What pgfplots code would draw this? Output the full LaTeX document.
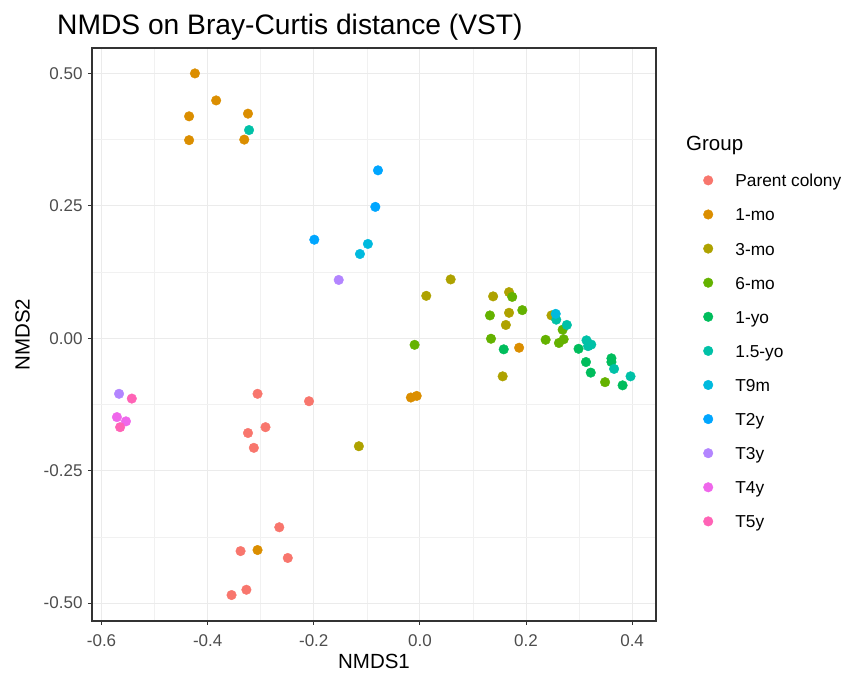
\documentclass[border=0pt]{standalone}
\usepackage{pgfplots}
\pgfplotsset{compat=1.18}
\usepackage{fontspec}
\setmainfont{Liberation Sans}
\definecolor{c1}{HTML}{F8766D}
\definecolor{c2}{HTML}{DB8E00}
\definecolor{c3}{HTML}{AEA200}
\definecolor{c4}{HTML}{64B200}
\definecolor{c5}{HTML}{00BD5C}
\definecolor{c6}{HTML}{00C1A7}
\definecolor{c7}{HTML}{00BADE}
\definecolor{c8}{HTML}{00A6FF}
\definecolor{c9}{HTML}{B385FF}
\definecolor{c10}{HTML}{EF67EB}
\definecolor{c11}{HTML}{FF63B6}
\definecolor{tickgrey}{HTML}{4D4D4D}
\definecolor{border}{HTML}{333333}
\definecolor{gridc}{HTML}{EBEBEB}
\begin{document}
\begin{tikzpicture}[x=1pt,y=1pt]
\path[use as bounding box] (0,0) rectangle (844,674);
\begin{axis}[
  at={(92pt,53pt)}, anchor=south west, scale only axis,
  width=564pt, height=573pt,
  xmin=-0.618, xmax=0.445, ymin=-0.534, ymax=0.548,
  xtick={-0.6,-0.4,-0.2,0,0.2,0.4},
  xticklabels={-0.6,-0.4,-0.2,0.0,0.2,0.4},
  ytick={-0.5,-0.25,0,0.25,0.5},
  yticklabels={-0.50,-0.25,0.00,0.25,0.50},
  minor xtick={-0.5,-0.3,-0.1,0.1,0.3},
  minor ytick={-0.375,-0.125,0.125,0.375},
  minor tick length=0pt,
  major tick length=4pt,
  tick align=outside,
  xtick pos=bottom, ytick pos=left,
  tick style={border, line width=0.9pt},
  axis line style={border, line width=1.1pt},
  grid=both,
  major grid style={gridc, line width=0.9pt},
  minor grid style={gridc!70, line width=0.5pt},
  ticklabel style={font=\fontsize{17}{20}\selectfont, text=tickgrey},
  xticklabel style={yshift=-6pt},
  yticklabel style={xshift=-2pt},
  xlabel={NMDS1}, ylabel={NMDS2},
  label style={font=\fontsize{20.5}{24}\selectfont, text=black},
  xlabel style={yshift=-1pt},
  ylabel style={yshift=7pt},
  only marks,
  every axis plot/.append style={mark=*, mark size=4.8pt},
  legend style={draw=none, fill=none, at={(axis description cs:1.083,0.7777)}, anchor=north west,
    font=\fontsize{17.3}{20}\selectfont, row sep=19.8pt, inner sep=0pt,
    nodes={inner sep=0pt, text height=10pt, text depth=3pt}},
  legend cell align=left,
  legend image code/.code={\path (-5pt,0pt) (27pt,0pt); \draw[#1] plot coordinates {(0pt,3pt)};},
]
\addplot[c1, mark options={draw=c1, fill=c1}] coordinates {
(-0.306,-0.105) (-0.209,-0.119) (-0.291,-0.168) (-0.324,-0.179) (-0.313,-0.207)
(-0.265,-0.357) (-0.338,-0.402) (-0.249,-0.415) (-0.327,-0.475) (-0.355,-0.485)};
\addlegendentry{Parent colony}
\addplot[c2, mark options={draw=c2, fill=c2}] coordinates {
(-0.424,0.500) (-0.384,0.449) (-0.435,0.419) (-0.324,0.424) (-0.435,0.374)
(-0.331,0.375) (-0.306,-0.400) (-0.017,-0.112) (-0.006,-0.109) (0.187,-0.018)};
\addlegendentry{1-mo}
\addplot[c3, mark options={draw=c3, fill=c3}] coordinates {
(0.012,0.080) (0.058,0.111) (0.138,0.079) (0.168,0.087) (0.168,0.048)
(0.162,0.025) (0.156,-0.072) (-0.115,-0.204) (0.248,0.043)};
\addlegendentry{3-mo}
\addplot[c4, mark options={draw=c4, fill=c4}] coordinates {
(-0.010,-0.0125) (0.174,0.078) (0.132,0.043) (0.193,0.053) (0.134,-0.001)
(0.269,0.016) (0.237,-0.003) (0.262,-0.009) (0.271,-0.002) (0.349,-0.083)};
\addlegendentry{6-mo}
\addplot[c5, mark options={draw=c5, fill=c5}] coordinates {
(0.158,-0.021) (0.299,-0.020) (0.313,-0.045) (0.322,-0.065) (0.361,-0.038)
(0.361,-0.045) (0.382,-0.089)};
\addlegendentry{1-yo}
\addplot[c6, mark options={draw=c6, fill=c6}] coordinates {
(-0.322,0.393) (0.257,0.035) (0.277,0.025) (0.314,-0.004) (0.323,-0.012)
(0.317,-0.015) (0.366,-0.058) (0.397,-0.072)};
\addlegendentry{1.5-yo}
\addplot[c7, mark options={draw=c7, fill=c7}] coordinates {
(-0.098,0.178) (-0.113,0.159) (0.256,0.046)};
\addlegendentry{T9m}
\addplot[c8, mark options={draw=c8, fill=c8}] coordinates {
(-0.079,0.317) (-0.084,0.248) (-0.199,0.186)};
\addlegendentry{T2y}
\addplot[c9, mark options={draw=c9, fill=c9}] coordinates {
(-0.153,0.110) (-0.567,-0.105)};
\addlegendentry{T3y}
\addplot[c10, mark options={draw=c10, fill=c10}] coordinates {
(-0.571,-0.149) (-0.554,-0.157)};
\addlegendentry{T4y}
\addplot[c11, mark options={draw=c11, fill=c11}] coordinates {
(-0.543,-0.114) (-0.565,-0.168)};
\addlegendentry{T5y}
\end{axis}
\node[anchor=base west, inner sep=0pt, font=\fontsize{28.2}{32}\selectfont] at (57pt,639pt) {NMDS on Bray-Curtis distance (VST)};
\node[anchor=west, inner sep=0pt, font=\fontsize{20.5}{24}\selectfont] at (686pt,529pt) {Group};
\end{tikzpicture}
\end{document}
